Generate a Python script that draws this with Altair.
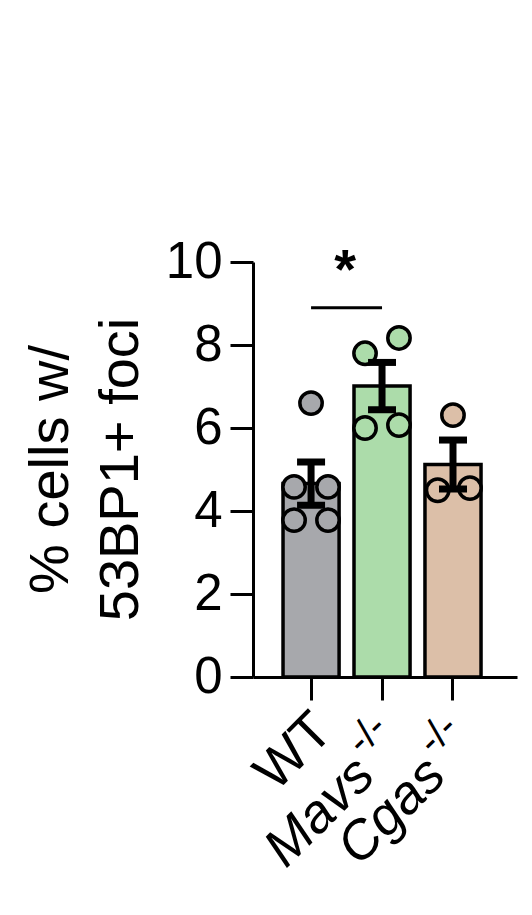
import altair as alt
import pandas as pd

# ---- data ----
groups = ["WT", "Mavs", "Cgas"]
means = [4.66, 7.01, 5.12]
sems = [0.52, 0.57, 0.59]
colors = ["#a7a8ac", "#acdcaa", "#dcbfa8"]

pt_group = ["WT", "WT", "WT", "WT", "WT", "Mavs", "Mavs", "Mavs", "Mavs", "Cgas", "Cgas", "Cgas"]
pt_value = [6.6, 4.58, 4.58, 3.78, 3.78, 7.8, 8.17, 6.0, 6.07, 6.31, 4.5, 4.55]
pt_jitter = [0, -1, 1, -1, 1, -1, 1, -1, 1, 0, -0.9, 1]

label_main = ["WT", "Mavs", "Cgas"]
label_sup = ["", "-/-", "-/-"]

sig_from, sig_to, sig_y, sig_text = "WT", "Mavs", 8.9, "*"

FONT = "Liberation Sans"

bars_df = pd.DataFrame({"group": groups, "mean": means, "sem": sems})
bars_df["lo"] = bars_df["mean"] - bars_df["sem"]
bars_df["hi"] = bars_df["mean"] + bars_df["sem"]
pts_df = pd.DataFrame({"group": pt_group, "value": pt_value, "jit": pt_jitter})
lab_df = pd.DataFrame({"group": groups, "main": label_main, "sup": label_sup})
sig_df = pd.DataFrame({"a": [sig_from], "b": [sig_to], "y": [sig_y], "t": [sig_text]})

xscale = alt.Scale(domain=groups, paddingInner=0.21, paddingOuter=0.465, align=0.455)
yscale = alt.Scale(domain=[0, 10], nice=False)
cscale = alt.Scale(domain=groups, range=colors)

x_enc = alt.X("group:N", scale=xscale, sort=groups,
              axis=alt.Axis(labels=False, title=None, ticks=True, tickSize=23, tickWidth=3,
                            tickColor="black", domainColor="black", domainWidth=3, grid=False))
y_enc = alt.Y("mean:Q", scale=yscale,
              axis=alt.Axis(values=[0, 2, 4, 6, 8, 10], tickSize=23, tickWidth=3, tickColor="black",
                            domainColor="black", domainWidth=3, grid=False,
                            labelFont=FONT, labelFontSize=51, labelColor="black", labelPadding=8,
                            title=["% cells w/", "53BP1+ foci"], titleFont=FONT, titleFontSize=56,
                            titleFontWeight="normal", titleColor="black", titleAngle=270,
                            titleBaseline="middle", titleAlign="center", titleLineHeight=70,
                            titleX=-203, titleY=207))

bars = alt.Chart(bars_df).mark_bar(stroke="black", strokeWidth=3.5).encode(
    x=x_enc, y=y_enc,
    color=alt.Color("group:N", scale=cscale, legend=None),
)

dots = alt.Chart(pts_df).mark_point(filled=True, size=500, stroke="black", strokeWidth=3.5, opacity=1).encode(
    x=alt.X("group:N", scale=xscale, sort=groups),
    xOffset=alt.XOffset("jit:Q", scale=alt.Scale(domain=[-1.65, 1.65], range=[0, 56])),
    y=alt.Y("value:Q", scale=yscale),
    fill=alt.Fill("group:N", scale=cscale, legend=None),
)

err = alt.Chart(bars_df).mark_rule(color="black", strokeWidth=7).encode(
    x=alt.X("group:N", scale=xscale, sort=groups),
    y=alt.Y("lo:Q", scale=yscale), y2="hi:Q",
)
cap_hi = alt.Chart(bars_df).mark_tick(color="black", size=28, thickness=7, opacity=1).encode(
    x=alt.X("group:N", scale=xscale, sort=groups),
    y=alt.Y("hi:Q", scale=yscale),
)
cap_lo = alt.Chart(bars_df).mark_tick(color="black", size=28, thickness=7, opacity=1).encode(
    x=alt.X("group:N", scale=xscale, sort=groups),
    y=alt.Y("lo:Q", scale=yscale),
)

sig_line = alt.Chart(sig_df).mark_rule(color="black", strokeWidth=3).encode(
    x=alt.X("a:N", scale=xscale, sort=groups), x2="b:N",
    y=alt.Y("y:Q", scale=yscale),
)
sig_star = alt.Chart(sig_df).mark_text(font=FONT, fontSize=56, fontWeight="bold", dx=34,
                                       baseline="alphabetic", align="center", color="black").encode(
    x=alt.X("a:N", scale=xscale, sort=groups),
    y=alt.Y("y:Q", scale=yscale),
    text="t:N",
).transform_calculate(y="datum.y + 0.48")

lab_wt = alt.Chart(lab_df).transform_filter(alt.datum.sup == "").mark_text(
    font=FONT, fontSize=54, angle=315, align="right", baseline="alphabetic",
    dx=-23, dy=57, color="black").encode(
    x=alt.X("group:N", scale=xscale, sort=groups), y=alt.datum(0), text="main:N")
lab_it = alt.Chart(lab_df).transform_filter(alt.datum.sup != "").mark_text(
    font=FONT, fontSize=54, fontStyle="italic", angle=315, align="right", baseline="alphabetic",
    dx=-75, dy=68, color="black").encode(
    x=alt.X("group:N", scale=xscale, sort=groups), y=alt.datum(0), text="main:N")
lab_sup = alt.Chart(lab_df).transform_filter(alt.datum.sup != "").mark_text(
    font=FONT, fontSize=40, angle=315, align="left", baseline="alphabetic",
    dx=-70, dy=42, color="black").encode(
    x=alt.X("group:N", scale=xscale, sort=groups), y=alt.datum(0), text="sup:N")

chart = alt.layer(bars, dots, err, cap_hi, cap_lo, sig_line, sig_star, lab_wt, lab_it, lab_sup).resolve_scale(
    xOffset="independent"
).properties(
    width=264, height=415,
    padding={"left": 245, "top": 254, "right": 5, "bottom": 220},
    autosize="none",
    background="white",
).configure_view(stroke=None)

chart.save("out.html", embed_options={"renderer": "svg", "actions": False})
